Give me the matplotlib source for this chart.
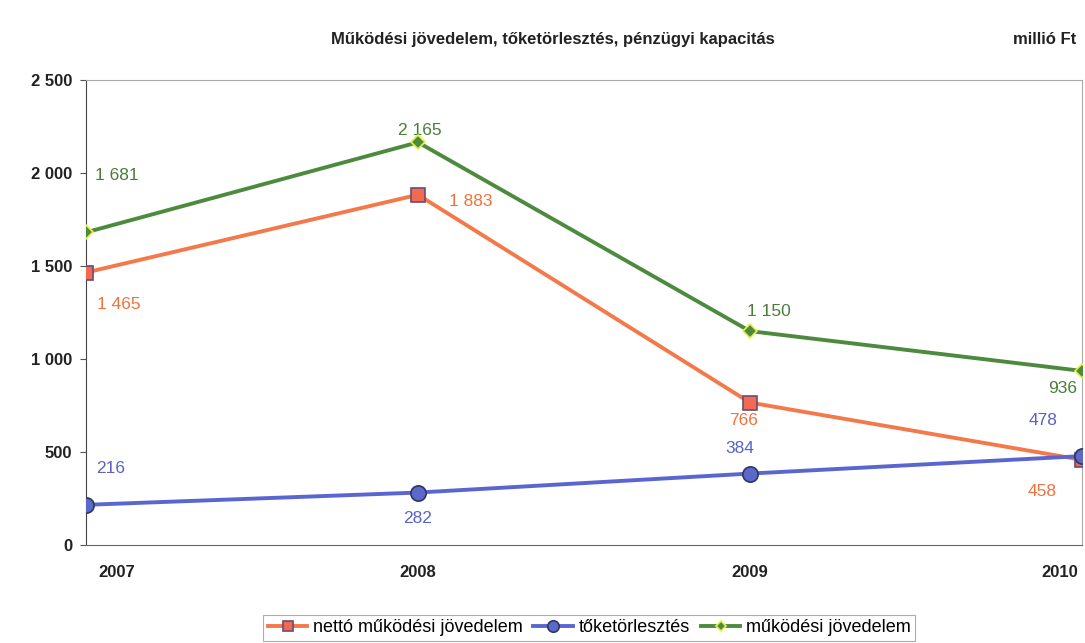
import matplotlib.pyplot as plt
import numpy as np

# adatok (millió Ft)
evek = ['2007', '2008', '2009', '2010']
netto = [1465, 1883, 766, 458]
toke = [216, 282, 384, 478]
mukodesi = [1681, 2165, 1150, 936]

plt.rcParams['font.family'] = ['Liberation Sans', 'DejaVu Sans']

fig = plt.figure(figsize=(10.85, 6.43), dpi=100)
ax = fig.add_axes([0.0793, 0.1524, 0.9177, 0.7232])

x = np.arange(len(evek))

c_or = '#f4794a'
c_bl = '#5a66cf'
c_gr = '#4e8a3e'

l1, = ax.plot(x, netto, color=c_or, lw=2.8, marker='s', ms=10,
              mfc='#f26a4f', mec='#6a4a7a', mew=1.2, zorder=3)
l2, = ax.plot(x, toke, color=c_bl, lw=2.8, marker='o', ms=11,
              mfc='#5b69c9', mec='#2f3566', mew=1.2, zorder=3)
l3, = ax.plot(x, mukodesi, color=c_gr, lw=2.8, marker='D', ms=7,
              mfc='#4e8a3e', mec='#e6f04a', mew=1.2, zorder=4)

# feliratok eltolasa (pixel)
off_netto = [(33, -32), (53, -7), (-6, -18), (-40, -32)]
off_toke = [(25, 36), (0, -26), (-10, 25), (-39, 36)]
off_muk = [(31, 57), (2, 12), (19, 20), (-19, -18)]

def fmt(v):
    return '{:,}'.format(v).replace(',', ' ')

for vals, offs, col in [(netto, off_netto, '#f0733e'),
                        (toke, off_toke, '#5a62c4'),
                        (mukodesi, off_muk, '#4a7c3a')]:
    for i, v in enumerate(vals):
        ax.annotate(fmt(v), (x[i], v), xytext=offs[i], textcoords='offset pixels',
                    ha='center', va='center', fontsize=12.5, color=col)

ax.set_xlim(0, 3)
ax.set_ylim(0, 2500)
ax.set_yticks([0, 500, 1000, 1500, 2000, 2500])
ax.set_yticklabels([fmt(v) for v in [0, 500, 1000, 1500, 2000, 2500]],
                   fontsize=12, fontweight='bold', color='#222222')
ax.set_xticks(x)
ax.set_xticklabels([])
ax.tick_params(axis='x', length=0)
ax.tick_params(axis='y', length=4, color='#555555', pad=6)

# evszamok (a szelso cimkek beljebb)
off_ev = [(31, -27), (0, -27), (0, -27), (-22, -27)]
for i, ev in enumerate(evek):
    ax.annotate(ev, (x[i], 0), xycoords=('data', 'axes fraction'), xytext=off_ev[i],
                textcoords='offset pixels', ha='center', va='center',
                fontsize=12, fontweight='bold', color='#222222')

for s in ['top', 'right']:
    ax.spines[s].set_color('#aaaaaa')
    ax.spines[s].set_linewidth(0.8)
ax.spines['left'].set_color('#444444')
ax.spines['bottom'].set_color('#666666')

fig.text(0.51, 0.938, 'Működési jövedelem, tőketörlesztés, pénzügyi kapacitás',
         ha='center', va='center', fontsize=12, fontweight='bold', color='#222222')
fig.text(0.963, 0.938, 'millió Ft', ha='center', va='center', fontsize=12,
         fontweight='bold', color='#222222')

leg = fig.legend([l1, l2, l3], ['nettó működési jövedelem', 'tőketörlesztés', 'működési jövedelem'],
                 loc='center', bbox_to_anchor=(0.543, 0.024), ncol=3, frameon=True,
                 fancybox=False, edgecolor='#999999', fontsize=13, handlelength=2.2,
                 columnspacing=0.6, handletextpad=0.3, borderpad=0.25, markerscale=0.75)
leg.get_frame().set_linewidth(0.8)

fig.savefig('out.png', dpi=100)
